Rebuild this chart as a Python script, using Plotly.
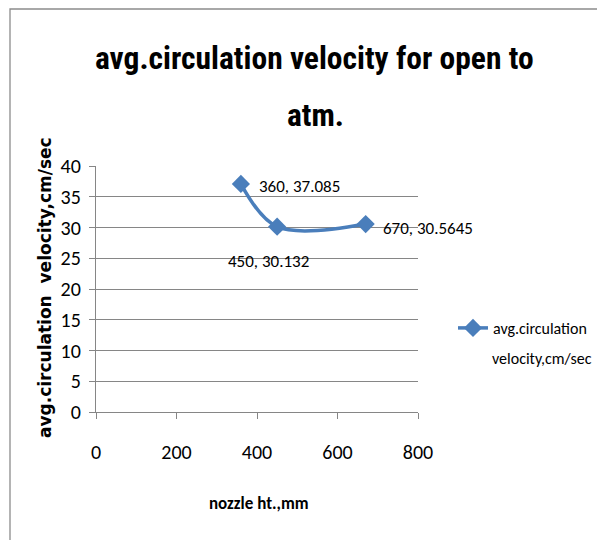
import plotly.graph_objects as go

# ---- data ----
x_vals = [360, 450, 670]
y_vals = [37.085, 30.132, 30.5645]
series_name = "avg.circulation"
series_name_2 = "velocity,cm/sec"
x_ticks = [0, 200, 400, 600, 800]
y_ticks = [0, 5, 10, 15, 20, 25, 30, 35, 40]
title_1 = "avg.circulation velocity for open to"
title_2 = "atm."
x_title = "nozzle ht.,mm"
y_title = "avg.circulation  velocity,cm/sec"

# ---- geometry (page pixels; the page body adds an 8px offset) ----
OFF = 8
W, H = 605, 540
L, R, T, B = 96 - OFF, 418 - OFF, 166 - OFF, 412 - OFF
pw, ph = R - L, B - T


def px_x(p):
    return (p - OFF - L) / pw


def px_y(p):
    return 1 - (p - OFF - T) / ph


CAL = "Carlito, Calibri, sans-serif"
COND = "Roboto Condensed, Carlito, sans-serif"
BLUE = "#4A7EBB"

fig = go.Figure()
fig.add_trace(go.Scatter(
    x=x_vals, y=y_vals, mode="lines+markers", name=series_name,
    line=dict(color=BLUE, width=3.5, shape="spline", smoothing=1.0),
    marker=dict(symbol="diamond", size=14, color=BLUE),
))

offsets = [(dict(xanchor="left", yanchor="middle"), 16, -3),
           (dict(xanchor="center", yanchor="middle"), -9, -35),
           (dict(xanchor="left", yanchor="middle"), 15, -4)]
for (xv, yv), (anch, xs, ys) in zip(zip(x_vals, y_vals), offsets):
    fig.add_annotation(x=xv, y=yv, text=f"{xv}, {yv}", showarrow=False,
                       xshift=xs, yshift=ys, font=dict(family=CAL, size=17, color="#000"),
                       **anch)

# Title lines
fig.add_annotation(xref="paper", yref="paper", x=px_x(314.5), y=px_y(58),
                   text=f"<b>{title_1}</b>", showarrow=False,
                   xanchor="center", yanchor="middle",
                   font=dict(family=COND, size=31.5, color="#000"))
fig.add_annotation(xref="paper", yref="paper", x=px_x(315), y=px_y(115),
                   text=f"<b>{title_2}</b>", showarrow=False,
                   xanchor="center", yanchor="middle",
                   font=dict(family=COND, size=31.5, color="#000"))

# second legend line
fig.add_annotation(xref="paper", yref="paper", x=px_x(490), y=px_y(358),
                   text=series_name_2, showarrow=False,
                   xanchor="left", yanchor="middle",
                   font=dict(family=CAL, size=16, color="#000"))

# axis titles
fig.add_annotation(xref="paper", yref="paper", x=px_x(258.5), y=px_y(503),
                   text=f"<b>{x_title}</b>", showarrow=False,
                   xanchor="center", yanchor="middle",
                   font=dict(family=CAL, size=17, color="#000"))
fig.add_annotation(xref="paper", yref="paper", x=px_x(45), y=px_y(288),
                   text=f"<b>{y_title}</b>", showarrow=False, textangle=-90,
                   xanchor="center", yanchor="middle",
                   font=dict(family="DejaVu Sans, Verdana, sans-serif", size=17, color="#000"))

# border box
fig.add_shape(type="rect", xref="paper", yref="paper",
              x0=px_x(10), x1=px_x(700), y0=px_y(9), y1=px_y(700),
              line=dict(color="#8C8C8C", width=1.3), layer="below")

fig.update_layout(
    width=W, height=H, autosize=False,
    margin=dict(l=L, r=W - R, t=T, b=H - B, pad=0),
    paper_bgcolor="white", plot_bgcolor="white",
    showlegend=True,
    legend=dict(x=px_x(453), y=px_y(328), xanchor="left", yanchor="middle",
                font=dict(family=CAL, size=16, color="#000"),
                bgcolor="rgba(0,0,0,0)", borderwidth=0),
    xaxis=dict(range=[0, 800], tickvals=x_ticks, showgrid=False, zeroline=False,
               showline=True, linecolor="#868686", linewidth=1.3,
               ticks="outside", ticklen=6, tickcolor="#868686", ticklabelstandoff=16,
               tickfont=dict(family=CAL, size=20, color="#000")),
    yaxis=dict(range=[0, 40], tickvals=y_ticks, showgrid=True, gridcolor="#868686",
               gridwidth=1.3, zeroline=False, showline=True, linecolor="#868686",
               linewidth=1.3, ticks="outside", ticklen=6, tickcolor="#868686",
               ticklabelstandoff=4,
               tickfont=dict(family=CAL, size=20, color="#000")),
)

fig.write_html("out.html")
